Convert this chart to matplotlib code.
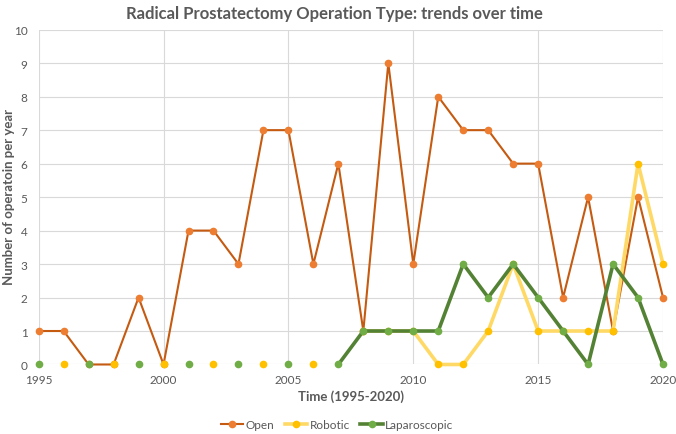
import numpy as np
import matplotlib
matplotlib.use('Agg')
import matplotlib.pyplot as plt

plt.rcParams['font.family'] = ['Lato', 'DejaVu Sans']

nan = np.nan
years = list(range(1995, 2021))
open_ops = [1, 1, 0, 0, 2, 0, 4, 4, 3, 7, 7, 3, 6, 1, 9, 3, 8, 7, 7, 6, 6, 2, 5, 1, 5, 2]
robotic = [nan, 0, nan, 0, nan, 0, nan, 0, nan, 0, nan, 0, nan,
           1, 1, 1, 0, 0, 1, 3, 1, 1, 1, 1, 6, 3]
laparoscopic = [0, nan, 0, nan, 0, nan, 0, nan, 0, nan, 0, nan, 0,
                1, 1, 1, 1, 3, 2, 3, 2, 1, 0, 3, 2, 0]

grey = '#595959'

fig = plt.figure(figsize=(6.76, 4.35), dpi=100)
ax = fig.add_axes([0.0572, 0.1598, 0.9236, 0.7696])

# Excel-like lines: darker line, brighter marker
ax.plot(years, open_ops, color='#C55A11', linewidth=1.5, marker='o', markersize=4.5,
        markerfacecolor='#ED7D31', markeredgecolor='#ED7D31', label='Open', zorder=3)
ax.plot(years, robotic, color='#FFD966', linewidth=2.6, marker='o', markersize=4.5,
        markerfacecolor='#FFC000', markeredgecolor='#FFC000', label='Robotic', zorder=4)
ax.plot(years, laparoscopic, color='#548235', linewidth=2.6, marker='o', markersize=4.5,
        markerfacecolor='#70AD47', markeredgecolor='#70AD47', label='Laparoscopic', zorder=5)
for ln in ax.lines:
    ln.set_clip_on(False)

ax.set_xlim(1995, 2020)
ax.set_ylim(0, 10)
ax.set_xticks(range(1995, 2021, 5))
ax.set_yticks(range(0, 11))
ax.grid(True, color='#D9D9D9', linewidth=0.8)
ax.set_axisbelow(True)
for s in ax.spines.values():
    s.set_visible(False)
ax.tick_params(length=0, labelsize=8.5, colors=grey)
ax.tick_params(axis='y', pad=8)
ax.tick_params(axis='x', pad=7)

fig.text(0.519, 0.0874, 'Time (1995-2020)', ha='center', va='center',
         fontsize=9.5, fontweight='bold', color=grey)
fig.text(0.013, 0.547, 'Number of operatoin per year', ha='center', va='center',
         rotation=90, fontsize=9.5, fontweight='bold', color=grey)
fig.text(0.494, 0.968, 'Radical Prostatectomy Operation Type: trends over time',
         ha='center', va='center', fontsize=12, fontweight='bold', color=grey)

leg = fig.legend(loc='center', bbox_to_anchor=(0.4985, 0.0207), ncol=3, frameon=False,
                 fontsize=8.5, handlelength=1.9, columnspacing=0.9, handletextpad=0.2,
                 borderpad=0, borderaxespad=0)
for t in leg.get_texts():
    t.set_color(grey)

fig.savefig('out.png', dpi=100)
